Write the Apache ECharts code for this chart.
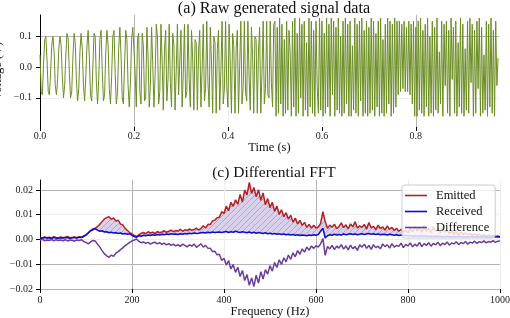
<!DOCTYPE html>
<html><head><meta charset="utf-8">
<script src="https://cdn.jsdelivr.net/npm/echarts@6/dist/echarts.min.js"></script>
<style>html,body{margin:0;padding:0;background:#fff}#c{width:510px;height:318px}</style>
</head><body><div id="c"></div>
<script>
// ---- (a) raw generated signal: sample spacing (s) and voltages (V)
const sampleStep = 0.0025;
const voltage = [
0.04,-0.08,-0.09,0.01,0.09,0.10,0.02,-0.08,-0.09,-0.02,0.07,0.10,0.05,-0.06,-0.09,-0.04,0.06,0.10,0.07,-0.03,
-0.10,-0.06,0.04,0.11,0.09,-0.02,-0.10,-0.08,0.03,0.11,0.08,-0.04,-0.11,-0.07,0.05,0.11,0.06,-0.06,-0.11,-0.03,
0.07,0.12,0.03,-0.09,-0.11,0.00,0.11,0.10,-0.05,-0.12,-0.04,0.09,0.12,-0.01,-0.11,-0.09,0.05,0.12,0.07,-0.07,
-0.12,-0.03,0.10,0.12,-0.02,-0.12,-0.08,0.06,0.13,0.04,-0.10,-0.12,0.01,0.12,0.09,-0.06,-0.13,-0.05,0.09,0.13,
0.13,-0.02,-0.13,0.09,0.11,-0.08,-0.12,0.11,0.07,-0.11,-0.10,0.13,0.04,-0.13,-0.06,0.13,0.01,-0.13,-0.03,0.14,
0.10,-0.12,-0.08,0.14,0.02,-0.14,0.06,0.12,-0.11,-0.04,0.14,-0.05,-0.13,0.11,0.07,-0.14,-0.01,0.14,-0.09,-0.09,
0.12,-0.13,-0.02,0.14,-0.10,-0.08,0.14,-0.04,-0.13,0.12,0.03,-0.14,0.09,0.08,-0.14,0.05,0.12,-0.13,-0.01,0.14,
-0.11,-0.07,0.15,-0.05,-0.13,0.13,0.02,-0.15,0.10,0.08,-0.15,0.06,0.12,-0.14,-0.01,0.15,-0.12,-0.07,0.15,-0.06,
-0.13,0.14,0.01,-0.15,0.11,0.07,-0.15,0.06,0.12,-0.15,0.00,0.15,-0.12,-0.06,0.15,-0.08,-0.11,0.15,-0.03,-0.14,
0.13,0.04,-0.15,0.10,0.09,-0.15,0.05,0.13,-0.15,-0.02,0.15,-0.12,-0.07,0.15,-0.09,-0.10,0.15,-0.05,-0.13,0.14,
0.15,-0.16,0.13,-0.15,0.16,-0.12,0.14,-0.16,0.09,-0.15,0.15,-0.14,0.12,0.05,-0.16,0.15,-0.13,0.16,-0.16,0.11,
-0.15,0.16,-0.10,0.14,-0.16,0.15,-0.14,0.08,-0.16,0.16,-0.13,0.15,-0.15,0.12,-0.16,0.15,-0.06,-0.15,0.16,-0.14,
0.15,-0.16,0.11,-0.15,0.16,-0.13,0.14,-0.16,0.16,-0.09,0.15,-0.16,0.13,-0.14,0.16,-0.15,0.10,-0.16,0.15,-0.15,
0.16,-0.12,0.14,-0.16,0.15,-0.16,0.07,-0.14,0.16,-0.15,0.14,-0.16,0.15,-0.11,0.16,-0.16,0.12,-0.15,0.15,-0.16,
0.13,-0.15,0.16,-0.14,0.15,-0.16,0.11,-0.13,0.15,-0.16,0.16,-0.15,0.09,-0.16,0.14,-0.15,0.16,-0.12,0.15,-0.16,
0.14,-0.15,0.16,-0.13,0.15,-0.09,0.15,-0.08,0.14,-0.07,0.15,-0.08,0.13,-0.08,0.15,-0.09,0.14,-0.12,0.15,-0.16,
0.13,-0.16,0.15,-0.14,0.16,-0.15,0.12,-0.16,0.14,-0.13,0.16,-0.16,0.10,-0.15,0.15,-0.16,0.13,-0.14,0.16,-0.15,
0.05,-0.12,0.15,-0.16,0.14,-0.06,0.15,-0.15,0.12,-0.16,0.16,-0.04,0.13,-0.15,0.15,-0.16,0.08,-0.13,0.16,-0.15,
0.14,-0.16,0.06,-0.14,0.15,-0.15,0.16,-0.05,0.14,-0.16,0.12,-0.15,0.15,-0.07,0.16,-0.16,0.13,-0.15,0.04,-0.14,
0.15,-0.16,0.14,-0.13,0.16,-0.15,0.12,-0.16,0.15,-0.06,0.03
];
const timeTicks = [0, 0.2, 0.4, 0.6, 0.8];
const voltTicks = [-0.1, 0, 0.1];

// ---- (c) differential FFT: frequency spacing (Hz) and magnitudes
const freqStep = 5;
const emitted = [
.0008,.0006,.0010,.0007,.0009,.0005,.0011,.0008,.0006,.0010,
.0007,.0009,.0012,.0006,.0008,.0010,.0007,.0011,.0009,.0014,
.0018,.0026,.0035,.0038,.0045,.0052,.0061,.0072,.0083,.0088,
.0092,.0081,.0087,.0074,.0078,.0062,.0059,.0045,.0036,.0028,
.0022,.0016,.0012,.0019,.0025,.0028,.0023,.0031,.0026,.0029,
.0024,.0032,.0027,.0030,.0035,.0029,.0033,.0038,.0031,.0036,
.0034,.0041,.0033,.0039,.0036,.0043,.0037,.0040,.0046,.0038,
.0045,.0055,.0046,.0061,.0060,.0075,.0078,.0088,.0090,.0112,
.0105,.0135,.0116,.0150,.0134,.0160,.0142,.0182,.0151,.0199,
.0180,.0230,.0186,.0210,.0172,.0201,.0158,.0188,.0140,.0165,
.0128,.0150,.0114,.0135,.0101,.0120,.0092,.0108,.0082,.0098,
.0070,.0086,.0063,.0077,.0057,.0069,.0049,.0061,.0046,.0057,
.0046,.0051,.0065,.0112,.0072,.0045,.0058,.0049,.0062,.0044,
.0052,.0067,.0048,.0059,.0043,.0063,.0051,.0071,.0046,.0055,
.0049,.0061,.0042,.0068,.0047,.0053,.0040,.0058,.0044,.0051,
.0038,.0055,.0041,.0049,.0036,.0045,.0033,.0041,.0030,.0036,
.0028,.0044,.0031,.0052,.0035,.0048,.0029,.0056,.0033,.0046,
.0027,.0051,.0034,.0043,.0026,.0049,.0031,.0038,.0024,.0035,
.0022,.0033,.0019,.0030,.0021,.0027,.0018,.0025,.0016,.0023,
.0015,.0021,.0014,.0019,.0013,.0018,.0012,.0016,.0011,.0014,
.0010
];
const received = [
.0007,.0005,.0008,.0006,.0007,.0004,.0008,.0006,.0005,.0007,
.0006,.0008,.0007,.0005,.0007,.0008,.0006,.0009,.0008,.0012,
.0018,.0027,.0036,.0042,.0044,.0038,.0033,.0035,.0030,.0031,
.0027,.0029,.0026,.0027,.0024,.0026,.0022,.0024,.0021,.0023,
.0016,.0012,.0009,.0015,.0013,.0017,.0015,.0018,.0016,.0019,
.0017,.0020,.0018,.0021,.0019,.0022,.0020,.0023,.0021,.0022,
.0020,.0023,.0021,.0024,.0022,.0025,.0023,.0026,.0024,.0025,
.0027,.0028,.0026,.0029,.0027,.0030,.0028,.0029,.0030,.0028,
.0030,.0032,.0028,.0031,.0029,.0033,.0030,.0028,.0031,.0029,
.0027,.0030,.0026,.0029,.0025,.0028,.0026,.0024,.0027,.0023,
.0025,.0022,.0024,.0021,.0023,.0020,.0022,.0019,.0021,.0018,
.0020,.0017,.0019,.0016,.0018,.0017,.0015,.0018,.0016,.0019,
.0017,.0020,.0033,.0045,.0006,.0015,.0019,.0017,.0021,.0018,
.0020,.0018,.0022,.0019,.0021,.0023,.0020,.0022,.0019,.0021,
.0023,.0020,.0022,.0024,.0021,.0023,.0020,.0022,.0019,.0021,
.0020,.0018,.0021,.0019,.0017,.0019,.0016,.0018,.0015,.0017,
.0014,.0016,.0013,.0015,.0014,.0012,.0015,.0013,.0014,.0012,
.0013,.0011,.0014,.0012,.0013,.0011,.0012,.0013,.0011,.0012,
.0012,.0010,.0013,.0011,.0012,.0010,.0011,.0012,.0010,.0011,
.0011,.0010,.0012,.0010,.0011,.0009,.0011,.0010,.0012,.0010,
.0011
];
const difference = [
-.0003,.0001,-.0005,-.0002,-.0004,.0000,-.0006,-.0001,-.0004,-.0002,
-.0005,-.0001,-.0006,-.0002,-.0003,-.0007,-.0002,-.0004,-.0001,-.0008,
-.0012,-.0018,-.0010,-.0004,-.0006,-.0019,-.0031,-.0045,-.0058,-.0066,
-.0072,-.0063,-.0068,-.0055,-.0049,-.0041,-.0034,-.0025,-.0019,-.0012,
-.0006,-.0002,.0002,-.0008,-.0013,-.0010,-.0016,-.0012,-.0019,-.0014,
-.0011,-.0018,-.0013,-.0020,-.0015,-.0022,-.0017,-.0024,-.0019,-.0026,
-.0021,-.0028,-.0019,-.0024,-.0030,-.0022,-.0027,-.0018,-.0032,-.0025,
-.0018,-.0031,-.0024,-.0036,-.0035,-.0049,-.0048,-.0062,-.0060,-.0085,
-.0076,-.0104,-.0085,-.0119,-.0101,-.0133,-.0112,-.0150,-.0125,-.0166,
-.0142,-.0185,-.0155,-.0190,-.0144,-.0176,-.0130,-.0160,-.0122,-.0140,
-.0106,-.0128,-.0093,-.0113,-.0082,-.0101,-.0074,-.0090,-.0063,-.0080,
-.0054,-.0070,-.0045,-.0060,-.0038,-.0051,-.0031,-.0043,-.0026,-.0036,
-.0025,-.0031,-.0018,.0004,-.0064,-.0028,-.0038,-.0024,-.0041,-.0027,
-.0035,-.0021,-.0039,-.0026,-.0042,-.0023,-.0037,-.0029,-.0044,-.0022,
-.0031,-.0019,-.0036,-.0024,-.0040,-.0021,-.0033,-.0027,-.0038,-.0018,
-.0029,-.0022,-.0035,-.0017,-.0031,-.0024,-.0028,-.0015,-.0033,-.0020,
-.0026,-.0014,-.0030,-.0019,-.0027,-.0012,-.0029,-.0017,-.0024,-.0013,
-.0027,-.0016,-.0022,-.0011,-.0025,-.0015,-.0021,-.0010,-.0023,-.0014,
-.0018,-.0009,-.0021,-.0012,-.0017,-.0008,-.0019,-.0011,-.0015,-.0007,
-.0016,-.0009,-.0013,-.0006,-.0014,-.0008,-.0011,-.0005,-.0012,-.0007,
-.0006
];
const freqTicks = [0, 200, 400, 600, 800, 1000];
const fftTicks = [-0.02, -0.01, 0, 0.01, 0.02];
const seriesNames = ['Emitted', 'Received', 'Difference'];

// ---- build
const FF = "'Liberation Serif','DejaVu Serif',serif";
const minus = s => s.replace('-', '\u2212');
const pairs = (arr, step) => arr.map((v, i) => [i * step, v]);

const pc = document.createElement('canvas');
pc.width = 6; pc.height = 6;
const g = pc.getContext('2d');
g.fillStyle = '#d9d0ec'; g.fillRect(0, 0, 6, 6);
g.strokeStyle = '#a898d2'; g.lineWidth = 0.8;
g.beginPath(); g.moveTo(0, 6); g.lineTo(6, 0); g.moveTo(-1, 1); g.lineTo(1, -1); g.moveTo(5, 7); g.lineTo(7, 5); g.stroke();
const hatch = {type: 'pattern', image: pc, repeat: 'repeat'};

const GREY = '#b4b4b4', FAINT = '#ededed', NONE = 'rgba(0,0,0,0)';
const tickCommon = {show: true, length: 4, inside: false, lineStyle: {color: '#000', width: 1}};
const labCommon = {fontFamily: FF, fontSize: 10, color: '#222'};

const chart = echarts.init(document.getElementById('c'), null, {renderer: 'canvas'});
chart.setOption({
  animation: false,
  backgroundColor: '#fff',
  title: [
    {text: '(a) Raw generated signal data', left: 269, textAlign: 'center', top: -4,
     textStyle: {fontFamily: FF, fontSize: 16.2, fontWeight: 'normal', color: '#111'}},
    {text: '(c) Differential FFT', left: 269, textAlign: 'center', top: 160,
     textStyle: {fontFamily: FF, fontSize: 15.5, fontWeight: 'normal', color: '#111'}}
  ],
  legend: {
    data: seriesNames, orient: 'vertical', left: 402, top: 185,
    icon: 'rect', itemWidth: 22, itemHeight: 1.6, itemGap: 3,
    padding: [4, 6, 4, 3],
    backgroundColor: 'rgba(255,255,255,0.8)', borderColor: '#cccccc', borderWidth: 1, borderRadius: 3,
    textStyle: {fontFamily: FF, fontSize: 12.5, color: '#111', padding: [0, 0, 0, 4]}
  },
  grid: [
    {left: 40, right: 11, top: 15, height: 112, outerBoundsMode: 'none', containLabel: false},
    {left: 40, right: 10, top: 180, height: 109, outerBoundsMode: 'none', containLabel: false}
  ],
  xAxis: [
    {gridIndex: 0, type: 'value', min: 0, max: 0.977, interval: 0.2,
     name: 'Time (s)', nameLocation: 'middle', nameGap: 14, nameMoveOverlap: false,
     nameTextStyle: {fontFamily: FF, fontSize: 12.5, color: '#111'},
     axisLine: {show: false, onZero: false},
     axisTick: Object.assign({customValues: timeTicks}, tickCommon),
     axisLabel: Object.assign({customValues: timeTicks, margin: 4, formatter: v => v.toFixed(1)}, labCommon),
     splitLine: {show: true, lineStyle: {color: [NONE, GREY, FAINT, FAINT, GREY, NONE], width: 1}}},
    {gridIndex: 1, type: 'value', min: 0, max: 1000, interval: 200,
     name: 'Frequency (Hz)', nameLocation: 'middle', nameGap: 16, nameMoveOverlap: false,
     nameTextStyle: {fontFamily: FF, fontSize: 12.5, color: '#111'},
     axisLine: {show: false, onZero: false},
     axisTick: Object.assign({customValues: freqTicks}, tickCommon),
     axisLabel: Object.assign({customValues: freqTicks, margin: 6, formatter: v => String(v)}, labCommon),
     splitLine: {show: true, lineStyle: {color: [NONE, GREY, FAINT, GREY, FAINT, FAINT], width: 1}}}
  ],
  yAxis: [
    {gridIndex: 0, type: 'value', min: -0.195, max: 0.17, splitNumber: 4,
     name: 'Voltage (V)', nameLocation: 'middle', nameGap: 36, nameMoveOverlap: false,
     nameTextStyle: {fontFamily: FF, fontSize: 12.5, color: '#111'},
     axisLine: {show: true, onZero: false, lineStyle: {color: '#000', width: 1}},
     axisTick: Object.assign({customValues: voltTicks}, tickCommon),
     axisLabel: Object.assign({customValues: voltTicks, margin: 8, formatter: v => minus(v.toFixed(1))}, labCommon),
     splitLine: {show: true, lineStyle: {color: [FAINT, FAINT, GREY], width: 1}}},
    {gridIndex: 1, type: 'value', min: -0.02, max: 0.024, interval: 0.01,
     axisLine: {show: true, onZero: false, lineStyle: {color: '#000', width: 1}},
     axisTick: Object.assign({customValues: fftTicks}, tickCommon),
     axisLabel: Object.assign({customValues: fftTicks, margin: 7, formatter: v => minus(v.toFixed(2))}, labCommon),
     splitLine: {show: true, lineStyle: {color: [GREY, GREY, FAINT, FAINT, GREY], width: 1}}}
  ],
  series: [
    {type: 'line', name: 'signal', xAxisIndex: 0, yAxisIndex: 0, data: pairs(voltage, sampleStep),
     showSymbol: false, symbol: 'none', silent: true, sampling: null,
     lineStyle: {color: '#6b8e23', width: 1}},
    {type: 'custom', name: 'band', xAxisIndex: 1, yAxisIndex: 1, silent: true, clip: true,
     data: pairs(emitted, freqStep),
     renderItem: (params, api) => {
       if (params.dataIndex !== 0) return null;
       const pts = [];
       for (let i = 0; i < emitted.length; i++) pts.push(api.coord([i * freqStep, emitted[i]]));
       for (let i = received.length - 1; i >= 0; i--) pts.push(api.coord([i * freqStep, received[i]]));
       return {type: 'polygon', shape: {points: pts}, style: {fill: hatch, stroke: null}};
     }},
    {type: 'line', name: 'Emitted', xAxisIndex: 1, yAxisIndex: 1, data: pairs(emitted, freqStep),
     symbol: 'none', lineStyle: {color: '#b22222', width: 1.5}, itemStyle: {color: '#b22222'}},
    {type: 'line', name: 'Received', xAxisIndex: 1, yAxisIndex: 1, data: pairs(received, freqStep),
     symbol: 'none', lineStyle: {color: '#0a0ad0', width: 1.5}, itemStyle: {color: '#0a0ad0'}},
    {type: 'line', name: 'Difference', xAxisIndex: 1, yAxisIndex: 1, data: pairs(difference, freqStep),
     symbol: 'none', lineStyle: {color: '#6a3d9a', width: 1.5}, itemStyle: {color: '#6a3d9a'}}
  ]
});
</script>
</body></html>
